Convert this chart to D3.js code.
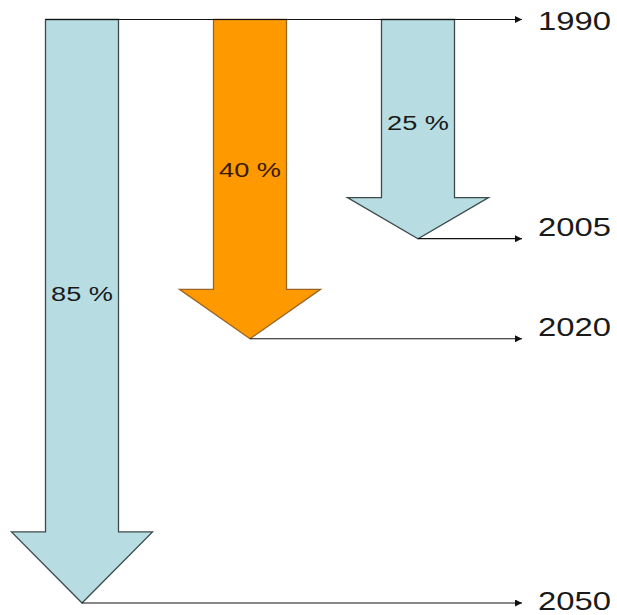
<!DOCTYPE html>
<html>
<head>
<meta charset="utf-8">
<script src="https://cdn.jsdelivr.net/npm/d3@7"></script>
<style>
  html, body { margin: 0; padding: 0; background: #fff; }
  svg { display: block; }
</style>
</head>
<body>
<script>
// ---- data ----
const years = [1990, 2005, 2020, 2050];
const reductionPct = [0, 25, 40, 85];          // cumulative reduction reached in each year
const arrowOrder = [2050, 2020, 2005];          // arrows left to right
const highlightYear = 2020;
const pctLabels = ["25 %", "40 %", "85 %"];     // for 2005, 2020, 2050

// ---- layout ----
const W = 617, H = 615;
const svg = d3.select("body").append("svg").attr("width", W).attr("height", H);

const y = d3.scalePow().exponent(0.8).domain([0, 85]).range([19.5, 603]);
const x = d3.scalePoint().domain(arrowOrder).range([82, 418]);
const headH = d3.scaleLinear().domain([217, 583]).range([41, 71]);

const shaftW = 73, headW = 141;
const lineEnd = 522, labelX = 538;
const blue = "#b7dde3", orange = "#fe9a00";

const defs = svg.append("defs");
defs.append("marker").attr("id", "ah").attr("viewBox", "0 0 10 10")
  .attr("refX", 10).attr("refY", 5).attr("markerWidth", 10).attr("markerHeight", 7)
  .attr("markerUnits", "userSpaceOnUse").attr("orient", "auto")
  .append("path").attr("d", "M0,0L10,5L0,10Z").attr("fill", "#111");

const rows = years.map((yr, i) => ({ year: yr, pct: reductionPct[i], label: pctLabels[i - 1] }));
const arrows = rows.filter(d => d.pct > 0);

// arrows
arrows.forEach(d => {
  const cx = x(d.year);
  const top = y(0), tip = y(d.pct);
  const hh = headH(tip - top);
  const base = tip - hh;
  const pts = [
    [cx - shaftW / 2, top], [cx + shaftW / 2, top], [cx + shaftW / 2, base],
    [cx + headW / 2, base], [cx, tip], [cx - headW / 2, base], [cx - shaftW / 2, base]
  ];
  const hl = d.year === highlightYear;
  svg.append("path")
    .attr("d", d3.line()(pts) + "Z")
    .attr("fill", hl ? orange : blue)
    .attr("stroke", hl ? "#9a6426" : "#3c4a4c")
    .attr("stroke-width", 1.3)
    .attr("stroke-linejoin", "miter");
  svg.append("text")
    .attr("x", cx).attr("y", top + (tip - top) * 0.47)
    .attr("text-anchor", "middle").attr("dominant-baseline", "central")
    .attr("font-family", "Liberation Sans, Arial, sans-serif")
    .attr("font-size", 20)
    .attr("textLength", 62).attr("lengthAdjust", "spacingAndGlyphs")
    .attr("fill", hl ? "#3a1a00" : "#1a1a1a")
    .text(d.label);
});

// timeline lines + year labels
rows.forEach((d, i) => {
  const ly = y(d.pct);
  const x0 = d.pct === 0 ? x(arrowOrder[0]) - shaftW / 2 : x(d.year);
  svg.append("line")
    .attr("x1", x0).attr("x2", lineEnd).attr("y1", ly).attr("y2", ly)
    .attr("stroke", "#111").attr("stroke-width", 1.2)
    .attr("marker-end", "url(#ah)");
  const first = i === 0, last = i === rows.length - 1;
  svg.append("text")
    .attr("x", labelX).attr("y", first ? ly + 1 : last ? ly - 2 : ly - 12)
    .attr("dominant-baseline", "central")
    .attr("font-family", "Liberation Sans, Arial, sans-serif")
    .attr("font-size", 25)
    .attr("textLength", 73).attr("lengthAdjust", "spacingAndGlyphs")
    .attr("fill", "#1a1a1a")
    .text(d.year);
});
</script>
</body>
</html>
